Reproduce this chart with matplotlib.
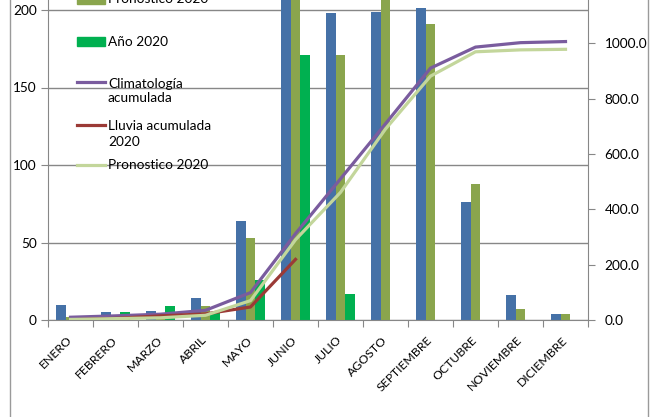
import matplotlib
matplotlib.use("Agg")
import matplotlib.pyplot as plt
from matplotlib.lines import Line2D
from matplotlib.patches import Rectangle
import numpy as np

months = ["ENERO", "FEBRERO", "MARZO", "ABRIL", "MAYO", "JUNIO", "JULIO",
          "AGOSTO", "SEPTIEMBRE", "OCTUBRE", "NOVIEMBRE", "DICIEMBRE"]
clim_mensual = [10, 5, 6, 14, 64, 213, 198, 199, 201, 76, 16, 4]
pron_mensual = [2, 3, 3, 9, 53, 220, 171, 229, 191, 88, 7, 4]
anio_2020 = [1, 5, 9, 5, 26, 171, 17]
clim_acum = [10, 15, 21, 35, 99, 312, 510, 709, 910, 986, 1002, 1006]
lluvia_acum = [1, 6, 15, 22, 47, 219]
pron_acum = [2, 5, 8, 17, 70, 290, 461, 690, 881, 969, 976, 978]

left_ticks = [0, 50, 100, 150, 200]
right_ticks = [0, 200, 400, 600, 800, 1000]
left_max = 250
right_max = 1400

BLUE = "#4571A7"
OLIVE = "#8AA54D"
GREEN = "#00B050"
PURPLE = "#7A5C9E"
RED = "#9B3A36"
LGREEN = "#C3D69B"
GRID = "#878787"

plt.rcParams['font.family'] = ['Lato', 'DejaVu Sans']

W, H = 655, 417
fig = plt.figure(figsize=(W / 100, H / 100), dpi=100)
ax = fig.add_axes([48 / W, 1 - 320 / H, 540 / W, 387.5 / H])

x = np.arange(len(months))
bw = 0.222
ax.bar(x - bw, clim_mensual, bw, color=BLUE, label="Climatología", zorder=2)
ax.bar(x, pron_mensual, bw, color=OLIVE, label="Pronostico 2020", zorder=2)
ax.bar(np.arange(len(anio_2020)) + bw, anio_2020, bw, color=GREEN, label="Año 2020", zorder=2)

ax.set_xlim(-0.5, len(months) - 0.5)
ax.set_ylim(0, left_max)
ax.set_yticks(left_ticks)
ax.set_yticklabels([str(v) for v in left_ticks])
ax.yaxis.grid(True, color=GRID, lw=1)
ax.set_axisbelow(True)

ax.set_xticks(np.arange(-0.5, len(months), 1))
ax.set_xticklabels([])
ax.set_xticks(x, minor=True)
ax.set_xticklabels(months, minor=True, rotation=45, ha='right', va='center',
                   rotation_mode='anchor', fontsize=8.8)
ax.tick_params(axis='x', which='major', length=5, color=GRID, direction='out')
ax.tick_params(axis='x', which='minor', length=0, pad=13)
ax.tick_params(axis='y', length=5, color=GRID, labelsize=9.8, pad=3)

for s in ['top', 'right']:
    ax.spines[s].set_visible(False)
for s in ['left', 'bottom']:
    ax.spines[s].set_color(GRID)

ax2 = ax.twinx()
ax2.plot(x, clim_acum, color=PURPLE, lw=2.3, label="Climatología acumulada")
ax2.plot(x[:len(lluvia_acum)], lluvia_acum, color=RED, lw=2.3, label="Lluvia acumulada 2020")
ax2.plot(x, pron_acum, color=LGREEN, lw=2.3, label="Pronostico 2020")
ax2.set_ylim(0, right_max)
ax2.set_yticks(right_ticks)
ax2.set_yticklabels([f"{v:.1f}" for v in right_ticks])
ax2.tick_params(axis='y', length=5, color=GRID, labelsize=9.8, pad=7)
for s in ['top', 'left', 'bottom']:
    ax2.spines[s].set_visible(False)
ax2.spines['right'].set_color(GRID)

# chart outer border
for bx in [10, 648]:
    fig.add_artist(Line2D([bx / W, bx / W], [0, 1], color="#9A9A9A", lw=1,
                          transform=fig.transFigure))

# legend drawn in figure pixel coordinates
def fx(px):
    return px / W

def fy(py):
    return 1 - py / H

leg_bars = [("Pronostico 2020", OLIVE, -1), ("Año 2020", GREEN, 41.5)]
for lab, col, yc in leg_bars:
    fig.add_artist(Rectangle((fx(77), fy(yc + 4.5)), 28 / W, 9 / H, color=col,
                             transform=fig.transFigure))
    fig.text(fx(108), fy(yc), lab, fontsize=9.8, va='center', ha='left')

leg_lines = [("Climatología\nacumulada", PURPLE, 82, 91),
             ("Lluvia acumulada\n2020", RED, 125, 134),
             ("Pronostico 2020", LGREEN, 165, 165)]
for lab, col, yl, yt in leg_lines:
    fig.add_artist(Line2D([fx(77), fx(105)], [fy(yl), fy(yl)], color=col, lw=2.3,
                          transform=fig.transFigure))
    fig.text(fx(108), fy(yt), lab, fontsize=9.8, va='center', ha='left', linespacing=1.3)

fig.savefig("out.png", dpi=100)
